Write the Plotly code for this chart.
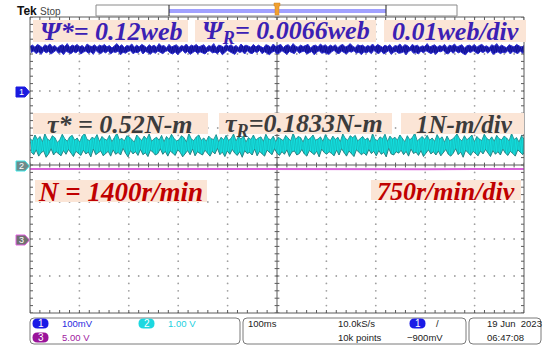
import numpy as np
import plotly.graph_objects as go

# ---------------- data ----------------
# CH1: flux noise about psi* (units of 1e-4 web): upper peaks and lower troughs
psi_ref_web = 0.12
ch1_peaks_1e4web = [
    7, 11, 5, 13, 9, 4, 12, 8, 14, 6, 10, 3, 9, 12, 7, 15, 5, 11, 8, 13,
    6, 10, 4, 14, 9, 7, 12, 5, 11, 8, 13, 6, 10, 3, 9, 15, 7, 12, 4, 10,
    8, 14, 5, 11, 6, 13, 9, 4, 12, 7, 11, 5, 15, 8, 10, 3, 13, 6, 9, 12,
    4, 10, 7, 14, 5, 11, 8, 13, 6, 9, 12, 3, 10, 7, 15, 4, 11, 9, 5, 13,
    8, 12, 6, 10, 4, 14, 7, 11, 9, 5, 13, 6, 11, 8, 3, 12, 10, 5, 14, 7,
    9, 13, 4, 10, 12, 6, 15, 8, 5, 11, 7, 10, 13, 3, 9, 11, 6, 14, 8, 12,
    5, 11, 7, 12, 4, 10, 13, 6, 9, 15, 8, 4, 12, 9, 11, 5, 10, 7, 14, 6,
    13, 9, 5, 11, 7, 12, 3, 10, 8, 14, 6, 12, 10, 4, 13, 8, 11, 5, 9, 7,
    15, 6, 9, 12, 5, 10, 7, 13, 4, 11, 8, 14, 6, 10, 12, 3, 9, 11, 7, 13,
    5, 10, 13, 7, 9, 4, 12, 8, 15, 6, 11, 7, 4, 12, 10, 6, 13, 9, 5, 10,
]
ch1_troughs_1e4web = [
    -9, -5, -12, -7, -14, -4, -10, -6, -13, -8, -3, -11, -7, -15, -5, -9, -12, -6, -10, -4,
    -13, -8, -5, -11, -7, -14, -3, -9, -12, -6, -10, -4, -13, -7, -9, -5, -15, -8, -11, -6,
    -4, -12, -8, -10, -3, -13, -6, -9, -14, -7, -11, -5, -9, -12, -6, -4, -10, -13, -7, -15,
    -8, -3, -11, -6, -14, -9, -5, -12, -7, -10, -13, -6, -4, -10, -8, -12, -5, -15, -9, -3,
    -7, -11, -14, -5, -9, -6, -13, -4, -10, -12, -6, -9, -3, -12, -7, -11, -15, -8, -5, -13,
    -10, -4, -8, -14, -6, -9, -12, -3, -11, -7, -5, -13, -10, -6, -15, -8, -4, -11, -9, -12,
    -14, -7, -3, -10, -12, -5, -9, -13, -6, -8, -4, -11, -8, -15, -7, -10, -6, -12, -3, -9,
    -12, -5, -13, -9, -4, -14, -8, -6, -11, -10, -7, -15, -6, -3, -11, -9, -13, -5, -10, -4,
    -9, -12, -8, -14, -6, -7, -3, -11, -13, -5, -11, -4, -10, -7, -12, -15, -6, -9, -4, -8,
    -13, -6, -9, -5, -11, -3, -14, -10, -7, -12, -8, -10, -4, -13, -6, -9, -12, -5, -11, -7,
]
# CH2: torque (units of 0.01 N-m): upper peaks and lower troughs
ch2_peaks_centi_nm = [
    72, 65, 81, 69, 77, 63, 84, 70, 66, 79, 74, 61, 68, 83, 71, 64, 76, 80, 67, 73,
    62, 78, 85, 69, 66, 75, 71, 82, 64, 77, 70, 67, 80, 63, 74, 86, 68, 72, 65, 79,
    76, 69, 62, 81, 73, 66, 78, 70, 84, 64, 71, 75, 67, 80, 63, 77, 69, 83, 72, 65,
    68, 79, 74, 62, 85, 70, 66, 76, 81, 67, 73, 64, 78, 71, 69, 82, 63, 75, 68, 80,
    66, 72, 84, 65, 77, 70, 79, 62, 74, 69, 81, 67, 73, 76, 64, 83, 71, 68, 78, 63,
    75, 70, 66, 80, 72, 65, 86, 69, 77, 74, 62, 79, 68, 73, 81, 67, 70, 76, 64, 82,
    71, 66, 78, 69, 75, 63, 84, 72, 67, 79, 74, 80, 65, 70, 77, 68, 73, 62, 85, 69,
    66, 76, 71, 83, 64, 78, 70, 75, 67, 81, 72, 63, 79, 68, 74, 86, 65, 71, 77, 69,
    80, 67, 73, 64, 82, 70, 76, 62, 78, 66, 69, 75, 84, 71, 65, 79, 68, 74, 81, 63,
    77, 70, 66, 83, 72, 67, 76, 64, 80, 71, 68, 78, 73, 65, 85, 69, 74, 62, 79, 70,
]
ch2_troughs_centi_nm = [
    35, 28, 41, 24, 33, 38, 21, 30, 44, 27, 36, 31, 25, 39, 29, 42, 34, 23, 37, 32,
    26, 40, 30, 35, 22, 43, 28, 33, 38, 25, 31, 37, 24, 41, 29, 34, 27, 45, 32, 22,
    39, 30, 36, 26, 42, 28, 33, 23, 40, 35, 27, 31, 44, 29, 37, 24, 38, 32, 26, 41,
    34, 22, 30, 39, 28, 43, 25, 36, 31, 27, 40, 33, 24, 37, 30, 45, 28, 35, 23, 38,
    29, 42, 32, 26, 36, 21, 39, 31, 34, 27, 43, 25, 37, 30, 24, 40, 33, 28, 44, 32,
    26, 36, 29, 41, 23, 35, 38, 27, 31, 42, 30, 24, 39, 33, 28, 37, 22, 43, 34, 29,
    36, 31, 25, 40, 27, 44, 32, 24, 38, 30, 23, 41, 35, 28, 33, 26, 42, 31, 37, 25,
    39, 29, 34, 22, 45, 30, 27, 36, 32, 40, 28, 37, 24, 43, 31, 35, 26, 39, 23, 33,
    41, 30, 36, 27, 38, 25, 34, 42, 29, 24, 32, 44, 28, 35, 21, 40, 33, 26, 37, 31,
    25, 38, 30, 42, 34, 23, 39, 29, 36, 27, 43, 32, 26, 37, 31, 24, 41, 35, 28, 38,
]
# CH3: speed in r/min
ch3_speed_rpm = [1418, 1416, 1419, 1417, 1418, 1420, 1417, 1418, 1416, 1419, 1418]

time_span_ms = 1000  # 100 ms/div x 10 div

# scope channel settings
ch1_scale = 0.01   # web/div
ch2_scale = 1.0    # N-m/div
ch3_scale = 750.0  # r/min/div
ch1_ground, ch2_ground, ch3_ground = 2.0, 0.0, -2.0
ch1_ref_pos = 3.13  # screen division where psi* sits

# ---------------- geometry helpers ----------------
W, H = 548, 350
L, R, T, B = 30, 24, 17, 37
PW, PH = W - L - R, H - T - B


def px(x):
    return (x - L) / PW


def py(y):
    return (H - B - y) / PH


def rrect(x0, y0, x1, y1, r):
    return (f"M {px(x0+r)},{py(y0)} L {px(x1-r)},{py(y0)} "
            f"Q {px(x1)},{py(y0)} {px(x1)},{py(y0+r)} L {px(x1)},{py(y1-r)} "
            f"Q {px(x1)},{py(y1)} {px(x1-r)},{py(y1)} L {px(x0+r)},{py(y1)} "
            f"Q {px(x0)},{py(y1)} {px(x0)},{py(y1-r)} L {px(x0)},{py(y0+r)} "
            f"Q {px(x0)},{py(y0)} {px(x0+r)},{py(y0)} Z")


def interleave(xa, ya, xb, yb):
    xs, ys = [], []
    for i in range(min(len(xa), len(xb))):
        xs += [xa[i], xb[i]]
        ys += [ya[i], yb[i]]
    return xs, ys


fig = go.Figure()

# ---------------- graticule ----------------
gx, gy = [], []
for xd in range(1, 10):
    if xd == 5:
        continue
    for k in range(0, 41):
        gx.append(xd * 100)
        gy.append(-4 + k * 0.2)
for yd in range(-3, 4):
    if yd == 0:
        continue
    for k in range(0, 51):
        gx.append(k * 20)
        gy.append(yd)
fig.add_trace(go.Scatter(x=gx, y=gy, mode="markers",
                         marker=dict(size=1.8, color="#a0a0a0"),
                         hoverinfo="skip", showlegend=False))

# tick marks on border and centre lines
tx_len = 3.0 / PW * time_span_ms
ty_len = 3.0 / PH * 8
lx, ly = [], []
for k in range(0, 41):
    yv = -4 + k * 0.2
    lx += [0, tx_len, None, time_span_ms - tx_len, time_span_ms, None,
           500 - tx_len * 0.8, 500 + tx_len * 0.8, None]
    ly += [yv, yv, None, yv, yv, None, yv, yv, None]
for k in range(0, 51):
    xv = k * 20
    lx += [xv, xv, None, xv, xv, None, xv, xv, None]
    ly += [4, 4 - ty_len, None, -4, -4 + ty_len, None,
           -ty_len * 0.8, ty_len * 0.8, None]
lx += [500, 500, None, 0, time_span_ms, None]
ly += [-4, 4, None, 0, 0, None]
fig.add_trace(go.Scatter(x=lx, y=ly, mode="lines",
                         line=dict(color="#5a5a5a", width=1),
                         hoverinfo="skip", showlegend=False))

# ---------------- channel traces ----------------
t3 = np.linspace(0, time_span_ms, len(ch3_speed_rpm))
y3 = ch3_ground + np.array(ch3_speed_rpm) / ch3_scale
fig.add_trace(go.Scatter(x=t3, y=y3, mode="lines",
                         line=dict(color="#d860d8", width=2),
                         hoverinfo="skip", showlegend=False))

# CH2 torque band
t2p = np.linspace(0, time_span_ms, len(ch2_peaks_centi_nm))
t2t = np.linspace(0, time_span_ms, len(ch2_troughs_centi_nm)) + 2.5
y2p = ch2_ground + np.array(ch2_peaks_centi_nm) / 100.0 / ch2_scale
y2t = ch2_ground + np.array(ch2_troughs_centi_nm) / 100.0 / ch2_scale
fig.add_trace(go.Scatter(x=t2t, y=y2t, mode="lines",
                         line=dict(color="#2a8686", width=1),
                         hoverinfo="skip", showlegend=False))
fig.add_trace(go.Scatter(x=t2p, y=y2p, mode="lines", fill="tonexty",
                         fillcolor="#12e2e2",
                         line=dict(color="#2a9a9a", width=1),
                         hoverinfo="skip", showlegend=False))
zx, zy = interleave(t2p, y2p, t2t, y2t)
fig.add_trace(go.Scatter(x=zx, y=zy, mode="lines",
                         line=dict(color="rgba(25,120,120,0.45)", width=0.5),
                         hoverinfo="skip", showlegend=False))

# CH1 flux band
t1p = np.linspace(0, time_span_ms, len(ch1_peaks_1e4web))
t1t = np.linspace(0, time_span_ms, len(ch1_troughs_1e4web)) + 2.5
y1p = ch1_ref_pos + (np.array(ch1_peaks_1e4web) * 1e-4) / ch1_scale
y1t = ch1_ref_pos + (np.array(ch1_troughs_1e4web) * 1e-4) / ch1_scale
fig.add_trace(go.Scatter(x=t1t, y=y1t, mode="lines",
                         line=dict(color="#2a2ad0", width=1),
                         hoverinfo="skip", showlegend=False))
fig.add_trace(go.Scatter(x=t1p, y=y1p, mode="lines", fill="tonexty",
                         fillcolor="#0c0c90",
                         line=dict(color="#2a2ad0", width=1),
                         hoverinfo="skip", showlegend=False))
zx, zy = interleave(t1p, y1p, t1t, y1t)
fig.add_trace(go.Scatter(x=zx, y=zy, mode="lines",
                         line=dict(color="rgba(80,80,240,0.5)", width=0.5),
                         hoverinfo="skip", showlegend=False))

shapes = []
annos = []

# border
shapes.append(dict(type="rect", xref="paper", yref="paper", x0=0, y0=0, x1=1, y1=1,
                   line=dict(color="#5a5a5a", width=1), layer="above"))

# ---------------- text boxes ----------------
PEACH = "#fbe5d6"
SERIF = "Liberation Serif, Times New Roman, serif"
boxes = [
    # x0, y0, x1, y1, text, color, cx, size
    (33, 20, 188, 42, "Ψ*= 0.12web", "#3b20b4", 111, 26),
    (195, 20, 376, 42, "Ψ<sub>R</sub>= 0.0066web", "#3b20b4", 286, 26),
    (384, 20, 526, 42, "0.01web/div", "#3b20b4", 455, 26),
    (33, 113, 208, 134, "τ* = 0.52N-m", "#3c3c3c", 120, 26),
    (219, 113, 392, 134, "τ<sub>R</sub>=0.1833N-m", "#3c3c3c", 304, 26),
    (401, 113, 524, 134, "1N-m/div", "#3c3c3c", 464, 25),
    (35, 180, 207, 202, "N = 1400r/min", "#c00000", 120, 27),
    (371, 180, 521, 200, "750r/min/div", "#c00000", 446, 26),
]
for x0, y0, x1, y1, txt, col, cx, fs in boxes:
    shapes.append(dict(type="rect", xref="paper", yref="paper",
                       x0=px(x0), x1=px(x1), y0=py(y1), y1=py(y0),
                       fillcolor=PEACH, line=dict(width=0), layer="above"))
    annos.append(dict(xref="paper", yref="paper", x=px(cx), y=py((y0 + y1) / 2 + 1),
                      text=f"<b><i>{txt}</i></b>", showarrow=False,
                      xanchor="center", yanchor="middle",
                      font=dict(family=SERIF, size=fs, color=col)))

# ---------------- channel tags on the left ----------------
SANS = "Liberation Sans, Arial, sans-serif"
tags = [(92, "1", "#1a1ae0", "#1a1ae0", "white"),
        (166, "2", "#6f8a8a", "#40e8e8", "white"),
        (240, "3", "#707070", "#e060e0", "white")]
for yc, lab, fillc, linec, tc in tags:
    path = (f"M {px(16)},{py(yc-5)} L {px(25)},{py(yc-5)} L {px(29.5)},{py(yc)} "
            f"L {px(25)},{py(yc+5)} L {px(16)},{py(yc+5)} Z")
    shapes.append(dict(type="path", xref="paper", yref="paper", path=path,
                       fillcolor=fillc, line=dict(color=linec, width=1), layer="above"))
    annos.append(dict(xref="paper", yref="paper", x=px(21.5), y=py(yc), text=lab,
                      showarrow=False, xanchor="center", yanchor="middle",
                      font=dict(family=SANS, size=9, color=tc)))

# ---------------- header ----------------
annos.append(dict(xref="paper", yref="paper", x=px(15), y=py(11.5), text="<b>Tek</b>",
                  showarrow=False, xanchor="left", yanchor="middle",
                  font=dict(family=SANS, size=12, color="#111111")))
annos.append(dict(xref="paper", yref="paper", x=px(37.5), y=py(11.5), text="Stop",
                  showarrow=False, xanchor="left", yanchor="middle",
                  font=dict(family=SANS, size=10, color="#444444")))
shapes.append(dict(type="rect", xref="paper", yref="paper",
                   x0=px(96), x1=px(457), y0=py(16), y1=py(5),
                   fillcolor="white", line=dict(color="#8a8a8a", width=1)))
shapes.append(dict(type="rect", xref="paper", yref="paper",
                   x0=px(169), x1=px(386), y0=py(13), y1=py(9),
                   fillcolor="#a0a0ff", line=dict(width=0)))
for xv in (169, 386):
    shapes.append(dict(type="line", xref="paper", yref="paper",
                       x0=px(xv), x1=px(xv), y0=py(16), y1=py(5),
                       line=dict(color="#222222", width=1)))
shapes.append(dict(type="path", xref="paper", yref="paper",
                   path=(f"M {px(274)},{py(3)} L {px(280)},{py(3)} L {px(280)},{py(6)} "
                         f"L {px(279)},{py(6)} L {px(279)},{py(15)} L {px(275)},{py(15)} "
                         f"L {px(275)},{py(6)} L {px(274)},{py(6)} Z"),
                   fillcolor="#f0a030", line=dict(color="#d08020", width=0.5)))

# ---------------- status bar ----------------
for x0, x1 in ((30, 240), (243, 466), (469, 541)):
    shapes.append(dict(type="path", xref="paper", yref="paper",
                       path=rrect(x0, 318, x1, 344, 4),
                       line=dict(color="#7a7a7a", width=1), fillcolor="white"))

pills = [(40.5, 323.5, "1", "#1a1ae6"), (146.5, 323.5, "2", "#1cd8e0"),
         (40.5, 337.5, "3", "#9a149a"), (417.5, 323.5, "1", "#1a1ae6")]
for cx, cy, lab, col in pills:
    shapes.append(dict(type="path", xref="paper", yref="paper",
                       path=rrect(cx - 8, cy - 5, cx + 8, cy + 5, 5),
                       fillcolor=col, line=dict(width=0)))
    annos.append(dict(xref="paper", yref="paper", x=px(cx), y=py(cy), text=lab,
                      showarrow=False, xanchor="center", yanchor="middle",
                      font=dict(family=SANS, size=10, color="white")))

status = [
    (60, 324, "100mV", "#2a2ae0"),
    (166, 324, "1.00 V", "#22d0e0"),
    (60, 337, "5.00 V", "#a020a0"),
    (246, 324, "100ms", "#222222"),
    (336, 324, "10.0kS/s", "#222222"),
    (336, 337, "10k points", "#222222"),
    (434, 324, "/", "#222222"),
    (405, 337, "−900mV", "#222222"),
    (485, 324, "19 Jun  2023", "#222222"),
    (485, 337, "06:47:08", "#222222"),
]
for x, y, txt, col in status:
    annos.append(dict(xref="paper", yref="paper", x=px(x), y=py(y), text=txt,
                      showarrow=False, xanchor="left", yanchor="middle",
                      font=dict(family=SANS, size=9.5, color=col)))

fig.update_layout(
    width=W, height=H,
    margin=dict(l=L, r=R, t=T, b=B, pad=0),
    paper_bgcolor="white", plot_bgcolor="white",
    xaxis=dict(range=[0, time_span_ms], visible=False, fixedrange=True),
    yaxis=dict(range=[-4, 4], visible=False, fixedrange=True),
    shapes=shapes, annotations=annos, showlegend=False,
)

fig.write_html("out.html", config={"displayModeBar": False, "staticPlot": True},
               post_script="document.body.style.margin='0px';document.body.style.overflow='hidden';")
